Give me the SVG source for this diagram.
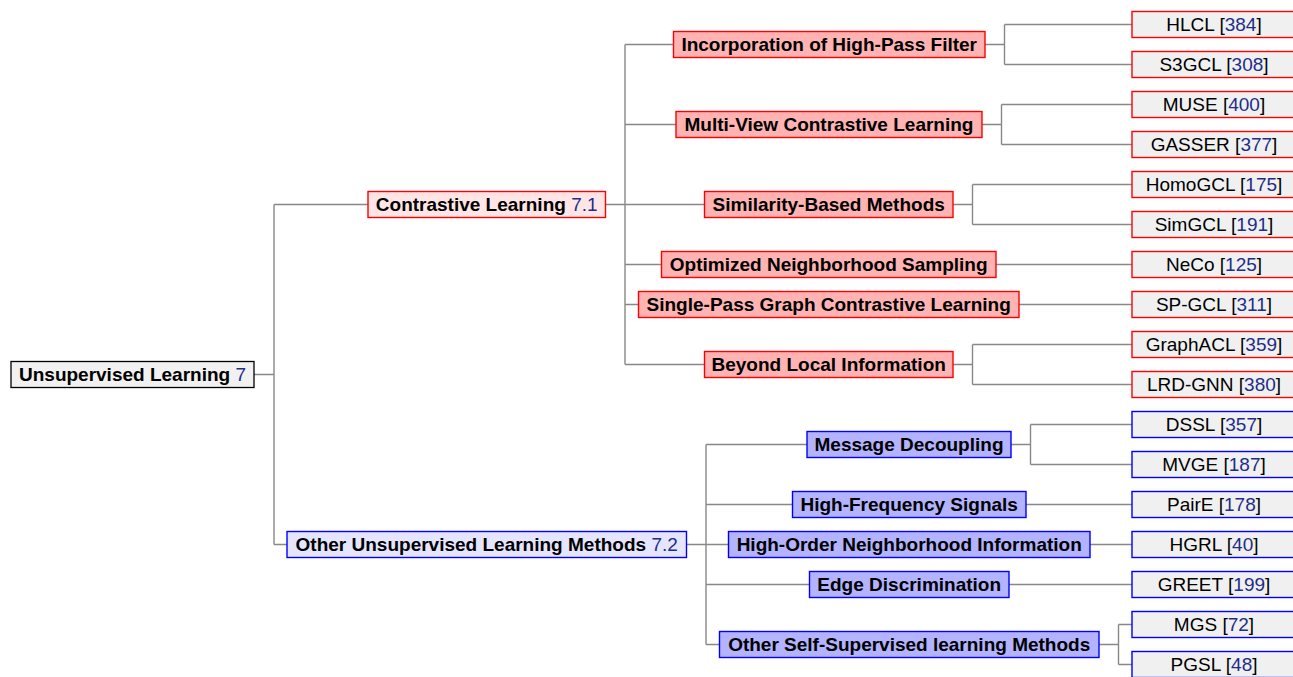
<svg xmlns="http://www.w3.org/2000/svg" width="1293" height="677" viewBox="0 0 1293 677">
<style>
.t{font-family:"Liberation Sans",Arial,sans-serif;font-size:19px;text-anchor:middle;fill:#000}
.b{font-weight:bold}
.n{font-weight:normal;fill:#1e2d88}
.root{fill:#f1f1f1;stroke:#000;stroke-width:1.3}
.rs{fill:#ffe5e5;stroke:#ff0000;stroke-width:1.4}
.rc{fill:#ffb3b3;stroke:#ff0000;stroke-width:1.4}
.rl{fill:#f0f0f0;stroke:#ff0000;stroke-width:1.4}
.bs{fill:#e5e5ff;stroke:#0000ff;stroke-width:1.4}
.bc{fill:#b3b3ff;stroke:#0000ff;stroke-width:1.4}
.bl{fill:#f0f0f0;stroke:#0000ff;stroke-width:1.4}
.c{fill:none;stroke:#888;stroke-width:1.4}
</style>
<rect width="1293" height="677" fill="#fff"/>
<g id="connectors" class="c">
<path d="M254 374.5H274M274 204.5V544.5M274 204.5H368M274 544.5H287"/>
<path d="M605.5 204.5H625M625 44.5V364.5M625 44.5H673.5M625 124.5H676M625 204.5H704.5M625 264.5H661.5M625 304.5H638.5M625 364.5H704.5"/>
<path d="M985 44.5H1004.5M1004.5 24.5V64.5M1004.5 24.5H1132M1004.5 64.5H1132"/>
<path d="M982 124.5H1001.5M1001.5 104.5V144.5M1001.5 104.5H1132M1001.5 144.5H1132"/>
<path d="M953 204.5H972.5M972.5 184.5V224.5M972.5 184.5H1132M972.5 224.5H1132"/>
<path d="M996 264.5H1132M1019 304.5H1132"/>
<path d="M953 364.5H972.5M972.5 344.5V384.5M972.5 344.5H1132M972.5 384.5H1132"/>
<path d="M686.5 544.5H706M706 444.5V644.5M706 444.5H807M706 504.5H792.5M706 544.5H728.5M706 584.5H809.5M706 644.5H719.5"/>
<path d="M1011 444.5H1030.5M1030.5 424.5V464.5M1030.5 424.5H1132M1030.5 464.5H1132"/>
<path d="M1026 504.5H1132M1090 544.5H1132M1009 584.5H1132"/>
<path d="M1099 644.5H1118.5M1118.5 624.5V664.5M1118.5 624.5H1132M1118.5 664.5H1132"/>
</g>
<g id="root"><rect class="root" x="11" y="361.5" width="243" height="26"/><text class="t b" x="132.5" y="381">Unsupervised Learning <tspan class="n">7</tspan></text></g>
<g id="contrastive"><rect class="rs" x="368" y="191.5" width="237.5" height="26"/><text class="t b" x="486.7" y="211">Contrastive Learning <tspan class="n">7.1</tspan></text></g>
<g id="highpass"><rect class="rc" x="673.5" y="31.5" width="311.5" height="26"/><text class="t b" x="829.2" y="51">Incorporation of High-Pass Filter</text></g>
<g id="multiview"><rect class="rc" x="676" y="111.5" width="306" height="26"/><text class="t b" x="829" y="131">Multi-View Contrastive Learning</text></g>
<g id="similarity"><rect class="rc" x="704.5" y="191.5" width="248.5" height="26"/><text class="t b" x="828.7" y="211">Similarity-Based Methods</text></g>
<g id="optimized"><rect class="rc" x="661.5" y="251.5" width="334.5" height="26"/><text class="t b" x="828.7" y="271">Optimized Neighborhood Sampling</text></g>
<g id="singlepass"><rect class="rc" x="638.5" y="291.5" width="380.5" height="26"/><text class="t b" x="828.7" y="311">Single-Pass Graph Contrastive Learning</text></g>
<g id="beyond"><rect class="rc" x="704.5" y="351.5" width="248.5" height="26"/><text class="t b" x="828.7" y="371">Beyond Local Information</text></g>
<g id="otherunsup"><rect class="bs" x="287" y="531.5" width="399.5" height="26"/><text class="t b" x="486.7" y="551">Other Unsupervised Learning Methods <tspan class="n">7.2</tspan></text></g>
<g id="message"><rect class="bc" x="807" y="431.5" width="204" height="26"/><text class="t b" x="909" y="451">Message Decoupling</text></g>
<g id="highfreq"><rect class="bc" x="792.5" y="491.5" width="233.5" height="26"/><text class="t b" x="909.2" y="511">High-Frequency Signals</text></g>
<g id="highorder"><rect class="bc" x="728.5" y="531.5" width="361.5" height="26"/><text class="t b" x="909.2" y="551">High-Order Neighborhood Information</text></g>
<g id="edge"><rect class="bc" x="809.5" y="571.5" width="199.5" height="26"/><text class="t b" x="909.2" y="591">Edge Discrimination</text></g>
<g id="otherself"><rect class="bc" x="719.5" y="631.5" width="379.5" height="26"/><text class="t b" x="909.2" y="651">Other Self-Supervised learning Methods</text></g>
<g id="hlcl"><rect class="rl" x="1132" y="11.5" width="164" height="26"/><text class="t" x="1214" y="31">HLCL [<tspan class="n">384</tspan>]</text></g>
<g id="s3gcl"><rect class="rl" x="1132" y="51.5" width="164" height="26"/><text class="t" x="1214" y="71">S3GCL [<tspan class="n">308</tspan>]</text></g>
<g id="muse"><rect class="rl" x="1132" y="91.5" width="164" height="26"/><text class="t" x="1214" y="111">MUSE [<tspan class="n">400</tspan>]</text></g>
<g id="gasser"><rect class="rl" x="1132" y="131.5" width="164" height="26"/><text class="t" x="1214" y="151">GASSER [<tspan class="n">377</tspan>]</text></g>
<g id="homogcl"><rect class="rl" x="1132" y="171.5" width="164" height="26"/><text class="t" x="1214" y="191">HomoGCL [<tspan class="n">175</tspan>]</text></g>
<g id="simgcl"><rect class="rl" x="1132" y="211.5" width="164" height="26"/><text class="t" x="1214" y="231">SimGCL [<tspan class="n">191</tspan>]</text></g>
<g id="neco"><rect class="rl" x="1132" y="251.5" width="164" height="26"/><text class="t" x="1214" y="271">NeCo [<tspan class="n">125</tspan>]</text></g>
<g id="spgcl"><rect class="rl" x="1132" y="291.5" width="164" height="26"/><text class="t" x="1214" y="311">SP-GCL [<tspan class="n">311</tspan>]</text></g>
<g id="graphacl"><rect class="rl" x="1132" y="331.5" width="164" height="26"/><text class="t" x="1214" y="351">GraphACL [<tspan class="n">359</tspan>]</text></g>
<g id="lrdgnn"><rect class="rl" x="1132" y="371.5" width="164" height="26"/><text class="t" x="1214" y="391">LRD-GNN [<tspan class="n">380</tspan>]</text></g>
<g id="dssl"><rect class="bl" x="1132" y="411.5" width="164" height="26"/><text class="t" x="1214" y="431">DSSL [<tspan class="n">357</tspan>]</text></g>
<g id="mvge"><rect class="bl" x="1132" y="451.5" width="164" height="26"/><text class="t" x="1214" y="471">MVGE [<tspan class="n">187</tspan>]</text></g>
<g id="paire"><rect class="bl" x="1132" y="491.5" width="164" height="26"/><text class="t" x="1214" y="511">PairE [<tspan class="n">178</tspan>]</text></g>
<g id="hgrl"><rect class="bl" x="1132" y="531.5" width="164" height="26"/><text class="t" x="1214" y="551">HGRL [<tspan class="n">40</tspan>]</text></g>
<g id="greet"><rect class="bl" x="1132" y="571.5" width="164" height="26"/><text class="t" x="1214" y="591">GREET [<tspan class="n">199</tspan>]</text></g>
<g id="mgs"><rect class="bl" x="1132" y="611.5" width="164" height="26"/><text class="t" x="1214" y="631">MGS [<tspan class="n">72</tspan>]</text></g>
<g id="pgsl"><rect class="bl" x="1132" y="651.5" width="164" height="26"/><text class="t" x="1214" y="671">PGSL [<tspan class="n">48</tspan>]</text></g>
</svg>
